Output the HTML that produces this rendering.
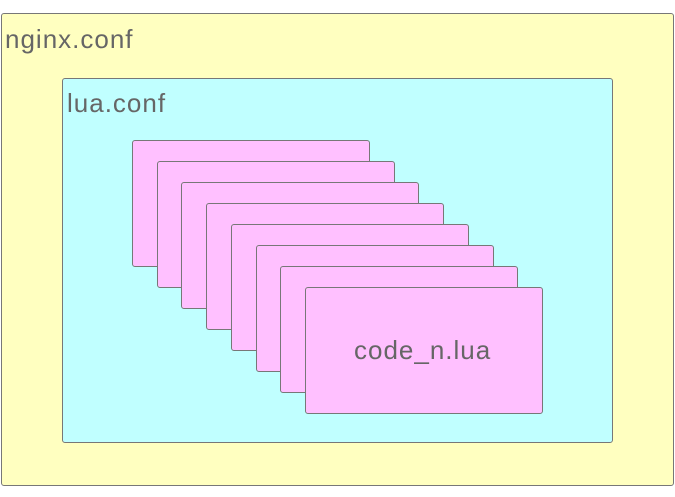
<!DOCTYPE html>
<html><head><style>
html,body{margin:0;padding:0;background:#fff;width:675px;height:497px;overflow:hidden;position:relative;font-family:"Liberation Sans",sans-serif;}
.b{position:absolute;box-sizing:border-box;border:1px solid #777;border-radius:3px;}
.t{position:absolute;color:#666;font-size:26px;white-space:nowrap;letter-spacing:1px;}
</style></head><body>
<div class="b" style="left:1px;top:13px;width:673px;height:473px;background:#ffffc0"></div>
<div class="t" style="left:5px;top:24px;">nginx.conf</div>
<div class="b" style="left:62px;top:78px;width:551px;height:365px;background:#c0ffff"></div>
<div class="t" style="left:67px;top:88px;">lua.conf</div>
<div class="b" style="left:132px;top:140px;width:238px;height:127px;background:#ffc0ff"></div>
<div class="b" style="left:157px;top:161px;width:238px;height:127px;background:#ffc0ff"></div>
<div class="b" style="left:181px;top:182px;width:238px;height:127px;background:#ffc0ff"></div>
<div class="b" style="left:206px;top:203px;width:238px;height:127px;background:#ffc0ff"></div>
<div class="b" style="left:231px;top:224px;width:238px;height:127px;background:#ffc0ff"></div>
<div class="b" style="left:256px;top:245px;width:238px;height:127px;background:#ffc0ff"></div>
<div class="b" style="left:280px;top:266px;width:238px;height:127px;background:#ffc0ff"></div>
<div class="b" style="left:305px;top:287px;width:238px;height:127px;background:#ffc0ff"></div>
<div class="t" style="left:354px;top:335px;">code_n.lua</div>
</body></html>
